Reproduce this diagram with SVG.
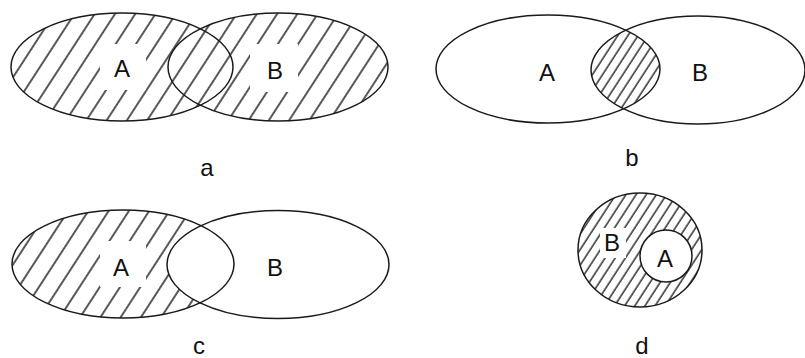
<svg xmlns="http://www.w3.org/2000/svg" width="805" height="358" viewBox="0 0 805 358">
<style>
.o{fill:none;stroke:#1a1a1a;stroke-width:1.5}
.t{font-family:"Liberation Sans",Arial,sans-serif;font-size:24px;fill:#111;text-anchor:middle}
</style>
<defs>
<pattern id="h1" patternUnits="userSpaceOnUse" width="17" height="40" patternTransform="rotate(33)">
<line x1="2" y1="0" x2="2" y2="40" stroke="#111" stroke-width="1.4"/>
</pattern>
<pattern id="h2" patternUnits="userSpaceOnUse" width="8.5" height="40" patternTransform="rotate(33)">
<line x1="2" y1="0" x2="2" y2="40" stroke="#111" stroke-width="1.3"/>
</pattern>
<clipPath id="cbA"><ellipse cx="548" cy="69" rx="112" ry="54"/></clipPath>
<clipPath id="cbB"><ellipse cx="698" cy="70" rx="107" ry="54"/></clipPath>
<mask id="ma"><rect width="805" height="358" fill="#000"/><ellipse cx="122" cy="67" rx="111" ry="54" fill="#fff"/><ellipse cx="278" cy="67" rx="110" ry="54" fill="#fff"/><rect x="100" y="44" width="46" height="46" fill="#000"/><rect x="250" y="44" width="48" height="48" fill="#000"/></mask>
<mask id="mc"><rect width="805" height="358" fill="#000"/><ellipse cx="123" cy="264" rx="111" ry="54" fill="#fff"/><ellipse cx="278" cy="264.5" rx="111" ry="54" fill="#000"/><rect x="100" y="241" width="46" height="46" fill="#000"/></mask>
<mask id="md"><rect width="805" height="358" fill="#000"/><ellipse cx="640" cy="250" rx="62" ry="57" fill="#fff"/><circle cx="666" cy="256" r="26" fill="#000"/><rect x="600" y="228" width="26" height="30" fill="#000"/></mask>
</defs>
<g id="panel-a">
<rect x="0" y="5" width="400" height="125" fill="url(#h1)" mask="url(#ma)"/>
<ellipse class="o" cx="122" cy="67" rx="111" ry="54"/>
<ellipse class="o" cx="278" cy="67" rx="110" ry="54"/>
<text class="t" x="122" y="77">A</text>
<text class="t" x="275" y="79">B</text>
<text class="t" x="207" y="176">a</text>
</g>
<g id="panel-b">
<g clip-path="url(#cbA)"><g clip-path="url(#cbB)"><rect x="580" y="10" width="90" height="120" fill="url(#h2)"/></g></g>
<ellipse class="o" cx="548" cy="69" rx="112" ry="54"/>
<ellipse class="o" cx="698" cy="70" rx="107" ry="54"/>
<text class="t" x="547" y="81">A</text>
<text class="t" x="700" y="81">B</text>
<text class="t" x="632" y="166">b</text>
</g>
<g id="panel-c">
<rect x="0" y="200" width="400" height="130" fill="url(#h1)" mask="url(#mc)"/>
<ellipse class="o" cx="123" cy="264" rx="111" ry="54"/>
<ellipse class="o" cx="278" cy="264.5" rx="111" ry="54"/>
<text class="t" x="121" y="276">A</text>
<text class="t" x="275" y="276">B</text>
<text class="t" x="199" y="354">c</text>
</g>
<g id="panel-d">
<rect x="570" y="185" width="140" height="130" fill="url(#h2)" mask="url(#md)"/>
<ellipse class="o" cx="640" cy="250" rx="62" ry="57"/>
<circle class="o" cx="666" cy="256" r="26"/>
<text class="t" x="612" y="251">B</text>
<text class="t" x="665" y="267">A</text>
<text class="t" x="642" y="354">d</text>
</g>
</svg>
